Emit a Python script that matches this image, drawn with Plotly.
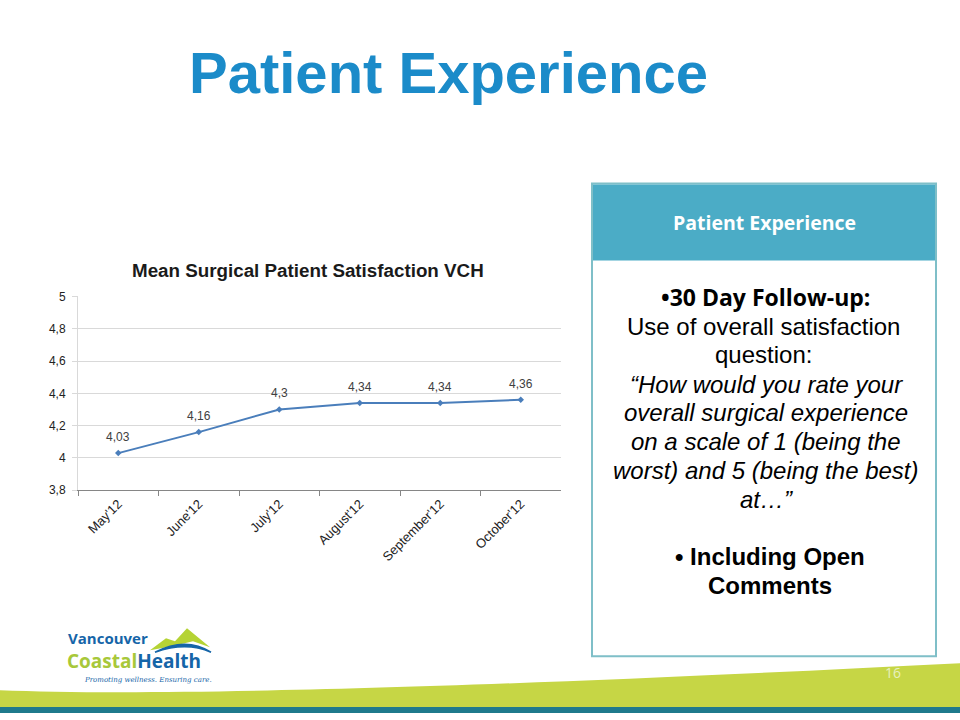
import plotly.graph_objects as go

months = ["May'12", "June'12", "July'12", "August'12", "September'12", "October'12"]
satisfaction = [4.03, 4.16, 4.30, 4.34, 4.34, 4.36]
point_labels = ["4,03", "4,16", "4,3", "4,34", "4,34", "4,36"]
y_ticks = [3.8, 4.0, 4.2, 4.4, 4.6, 4.8, 5.0]
y_tick_labels = ["3,8", "4", "4,2", "4,4", "4,6", "4,8", "5"]

W, H = 960, 720
# the photographed page shows the 720px paper slightly compressed vertically;
# compensate so that targets land where the reference has them
SY, OY = 0.981, 6.5
def px(x):
    return x / W
def py(y):
    yy = (y - OY) / SY
    return 1 - yy / H

fig = go.Figure()
fig.add_trace(go.Scatter(
    x=months, y=satisfaction, mode="lines+markers",
    line=dict(color="#4A7EBB", width=2),
    marker=dict(symbol="diamond", size=5, color="#4A7EBB"),
    cliponaxis=False, showlegend=False,
))

fig.update_layout(
    width=W, height=H,
    margin=dict(l=0, r=0, t=0, b=0),
    paper_bgcolor="white", plot_bgcolor="white",
    separators=", ",
    xaxis=dict(
        domain=[px(78), px(561)], range=[-0.5, 5.5],
        tickangle=-45, tickson="boundaries", ticks="outside", ticklen=5,
        tickcolor="#868686", showline=True, linecolor="#868686", linewidth=1,
        showgrid=False,
        tickfont=dict(family="Liberation Sans", size=13, color="#222222"),
    ),
    yaxis=dict(
        domain=[py(490), py(296)], range=[3.8, 5.0],
        tickvals=y_ticks, ticktext=y_tick_labels,
        showgrid=True, gridcolor="#D9D9D9", gridwidth=1,
        showline=True, linecolor="#D9D9D9", ticks="outside", ticklen=5,
        tickcolor="#D9D9D9",
        zeroline=False, ticklabelstandoff=4,
        tickfont=dict(family="Liberation Sans", size=12, color="#222222"),
    ),
)

shapes = []
# right info box
shapes.append(dict(type="rect", xref="paper", yref="paper",
                   x0=px(592), x1=px(936), y0=py(656), y1=py(183),
                   line=dict(color="#7FBFC8", width=2), fillcolor="white", layer="below"))
shapes.append(dict(type="rect", xref="paper", yref="paper",
                   x0=px(593), x1=px(935), y0=py(260), y1=py(184),
                   line=dict(width=0), fillcolor="#4BACC6", layer="below"))
# bottom green wave
wave = (f"M {px(0)},{py(690)} C {px(150)},{py(696)} {px(450)},{py(689)} {px(960)},{py(663)} "
        f"L {px(960)},0 L {px(0)},0 Z")
shapes.append(dict(type="path", xref="paper", yref="paper", path=wave,
                   fillcolor="#C6D645", line=dict(width=0), layer="below"))
shapes.append(dict(type="rect", xref="paper", yref="paper",
                   x0=0, x1=1, y0=0, y1=6 / H,
                   fillcolor="#1F7A8C", line=dict(width=0), layer="below"))
# logo mountain
mount = (f"M {px(150)},{py(650)} L {px(166)},{py(638)} L {px(175)},{py(641)} L {px(187)},{py(628)} "
         f"L {px(210)},{py(647)} L {px(193)},{py(641)} L {px(172)},{py(646)} Z")
shapes.append(dict(type="path", xref="paper", yref="paper", path=mount,
                   fillcolor="#B5D334", line=dict(width=0)))
swoosh = (f"M {px(155)},{py(652)} Q {px(186)},{py(636)} {px(211)},{py(652)} "
          f"Q {px(186)},{py(641)} {px(155)},{py(652)} Z")
shapes.append(dict(type="path", xref="paper", yref="paper", path=swoosh,
                   fillcolor="#1565A8", line=dict(color="#1565A8", width=1.5)))
fig.update_layout(shapes=shapes)

ann = []
# data labels, placed through the axes
for m, v, t in zip(months, satisfaction, point_labels):
    ann.append(dict(text=t, x=m, y=v, xref="x", yref="y", showarrow=False,
                    yshift=16, xanchor="center", yanchor="middle",
                    font=dict(family="Liberation Sans", size=12, color="#404040")))

def add(text, x, y, size, color="black", family="Liberation Sans", xanchor="center"):
    ann.append(dict(text=text, x=px(x), y=py(y), xref="paper", yref="paper",
                    showarrow=False, xanchor=xanchor, yanchor="middle",
                    font=dict(family=family, size=size, color=color)))

add("<b>Patient Experience</b>", 448, 72, 58, color="#1B8BC9")
add("<b>Mean Surgical Patient Satisfaction VCH</b>", 308, 270, 18.8, color="#1a1a1a")
add("<b>Patient Experience</b>", 764, 222, 19.5, color="white", family="Open Sans")

add("<b>•30 Day Follow-up:</b>", 765, 297, 23, family="Open Sans")
add("Use of overall satisfaction", 763, 326, 24)
add("question:", 763, 354, 24)
add("<i>“How would you rate your</i>", 766, 384, 24)
add("<i>overall surgical experience</i>", 766, 412, 24)
add("<i>on a scale of 1 (being the</i>", 766, 441, 24)
add("<i>worst) and 5 (being the best)</i>", 766, 470, 24)
add("<i>at…”</i>", 766, 499, 24)
add("<b>• Including Open</b>", 770, 556, 24)
add("<b>Comments</b>", 770, 585, 24)

# logo text
add("<b>Vancouver</b>", 66, 638, 15, color="#1565A8", family="Open Sans", xanchor="left")
add("<b><span style='color:#A8C83A'>Coastal</span>Health</b>", 65, 661, 19, color="#1565A8",
    family="Open Sans", xanchor="left")
add("<i>Promoting wellness. Ensuring care.</i>", 82, 680, 7, color="#1565A8",
    family="DejaVu Serif", xanchor="left")
add("16", 893, 672, 14, color="#E8F0C0", family="Open Sans")
fig.update_layout(annotations=ann)

fig.write_html(
    "out.html",
    config={"displayModeBar": False, "staticPlot": True},
    post_script=(
        "document.documentElement.style.overflow='hidden';"
        "document.body.style.margin='0';"
        "document.body.style.overflow='hidden';"
        "var g=document.getElementById('{plot_id}');"
        "g.style.position='fixed';g.style.left='0px';g.style.top='0px';"
    ),
)
